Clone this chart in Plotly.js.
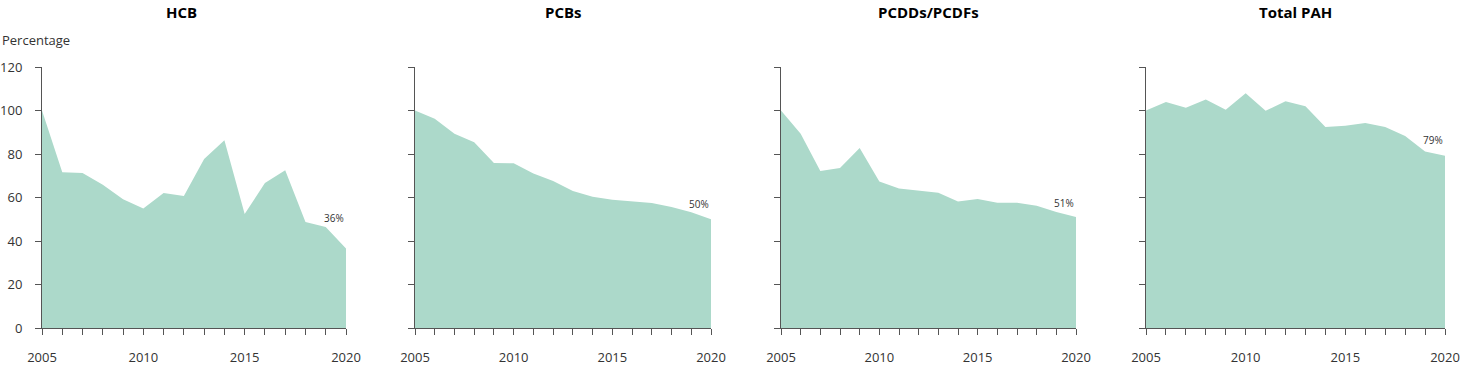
<!DOCTYPE html>
<html>
<head>
<meta charset="utf-8">
<script src="https://cdn.plot.ly/plotly-3.0.1.min.js"></script>
<style>html,body{margin:0;padding:0;background:#fff;}#chart{width:1460px;height:365px;}</style>
</head>
<body>
<div id="chart"></div>
<script>
const years = [2005,2006,2007,2008,2009,2010,2011,2012,2013,2014,2015,2016,2017,2018,2019,2020];
const panelTitles = ["HCB","PCBs","PCDDs/PCDFs","Total PAH"];
const hcb    = [100,71.6,71.3,65.9,59.2,54.9,62.1,60.7,77.7,86.3,52.4,66.7,72.5,48.7,46.4,36.5];
const pcbs   = [100,96.2,89.3,85.4,75.9,75.7,71.0,67.6,63.0,60.4,59.0,58.1,57.5,55.6,53.2,50.0];
const pcdd   = [100,89.3,72.2,73.6,82.8,67.3,64.1,63.0,62.2,58.2,59.3,57.6,57.6,56.2,53.3,51.0];
const pah    = [100,103.9,101.3,105.1,100.4,107.9,99.9,104.2,101.9,92.4,93.0,94.3,92.4,88.3,81.2,79.2];
const endLabels = ["36%","50%","51%","79%"];
const yTickVals = [0,20,40,60,80,100,120];
const xTickVals = [2005,2010,2015,2020];

const series = [hcb,pcbs,pcdd,pah];
const W = 1460;
const domainsPx = [[42,346],[415,711],[781,1076],[1146,1445]];
const titleX = [181,563,928,1295];
const labelShift = [31,15,14,16];
const fillColor = "#acd9ca";
const axisColor = "#555555";
const font = "Open Sans, Noto Sans, sans-serif";

const data = [];
const layout = {
  width:1460, height:365,
  margin:{l:0,r:0,t:0,b:0},
  paper_bgcolor:"#fff", plot_bgcolor:"#fff",
  showlegend:false,
  font:{family:font, size:13, color:"#333"},
  annotations:[]
};

series.forEach((vals,i)=>{
  const n = i+1;
  const xa = n===1 ? "x" : "x"+n;
  const ya = n===1 ? "y" : "y"+n;
  data.push({
    x: years, y: vals, xaxis: xa, yaxis: ya,
    type:"scatter", mode:"lines", fill:"tozeroy",
    fillcolor: fillColor, line:{width:0, color:fillColor},
    hoverinfo:"x+y"
  });
  const xk = n===1 ? "xaxis" : "xaxis"+n;
  const yk = n===1 ? "yaxis" : "yaxis"+n;
  const d = domainsPx[i];
  layout[xk] = {
    domain:[d[0]/W, d[1]/W], anchor: ya,
    range:[2005,2020], tickvals:xTickVals, ticktext:xTickVals.map(String),
    ticks:"outside", ticklen:6, tickcolor:axisColor, tickwidth:1,
    minor:{dtick:1, tick0:2005, ticks:"outside", ticklen:6, tickcolor:axisColor, tickwidth:1},
    showline:true, linecolor:axisColor, linewidth:1,
    showgrid:false, zeroline:false,
    ticklabelstandoff:11,
    tickfont:{family:font, size:13, color:"#333"}
  };
  layout[yk] = {
    domain:[(365-328)/365, (365-67)/365], anchor: xa,
    range:[0,120], tickvals:yTickVals,
    ticks:"outside", ticklen:6, tickcolor:axisColor, tickwidth:1,
    showline:true, linecolor:axisColor, linewidth:1,
    showgrid:false, zeroline:false,
    showticklabels: n===1,
    ticktext: yTickVals.map(String),
    ticklabelstandoff:10,
    tickfont:{family:font, size:13, color:"#333"}
  };
  layout.annotations.push({
    xref:"paper", yref:"paper", x:titleX[i]/W, y:1-12/365,
    xanchor:"center", yanchor:"middle", showarrow:false,
    text:"<b>"+panelTitles[i]+"</b>",
    font:{family:font, size:15, color:"#000"}
  });
  layout.annotations.push({
    xref:xa, yref:ya, x:years[years.length-1], y:vals[vals.length-1],
    xanchor:"right", yanchor:"middle", yshift:labelShift[i], showarrow:false,
    text:endLabels[i],
    font:{family:font, size:10, color:"#333"}
  });
});
layout.annotations.push({
  xref:"paper", yref:"paper", x:0, y:1-40/365,
  xanchor:"left", yanchor:"middle", showarrow:false,
  text:"Percentage", font:{family:font, size:13, color:"#333"}
});

Plotly.newPlot("chart", data, layout, {displayModeBar:false, staticPlot:true});
</script>
</body>
</html>
